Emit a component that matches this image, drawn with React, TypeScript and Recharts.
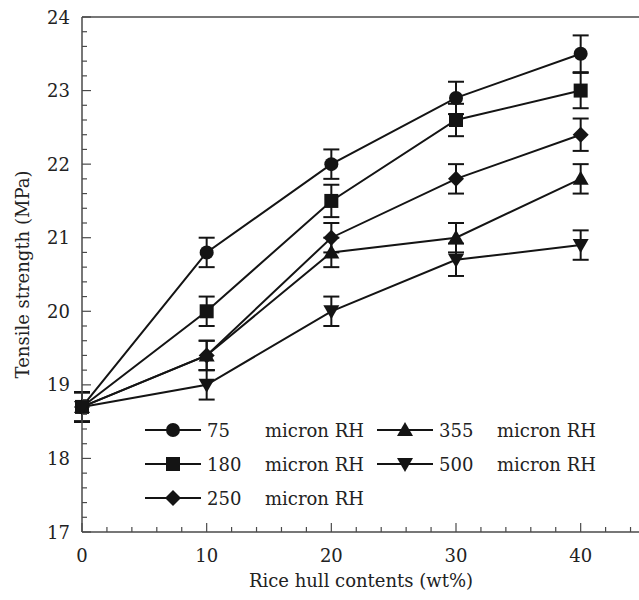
import { CartesianGrid, ErrorBar, Line, LineChart, ReferenceLine, XAxis, YAxis } from 'recharts';

const contents = [0, 10, 20, 30, 40];

const rh75 = [18.7, 20.8, 22.0, 22.9, 23.5];
const rh180 = [18.7, 20.0, 21.5, 22.6, 23.0];
const rh250 = [18.7, 19.4, 21.0, 21.8, 22.4];
const rh355 = [18.7, 19.4, 20.8, 21.0, 21.8];
const rh500 = [18.7, 19.0, 20.0, 20.7, 20.9];

const err75 = [0.2, 0.2, 0.2, 0.22, 0.25];
const err180 = [0.2, 0.2, 0.22, 0.22, 0.24];
const err250 = [0.2, 0.2, 0.2, 0.2, 0.22];
const err355 = [0.2, 0.2, 0.2, 0.2, 0.2];
const err500 = [0.2, 0.2, 0.2, 0.22, 0.2];

const xMajorTicks = [0, 10, 20, 30, 40];
const xMinorStep = 2;
const yMajorTicks = [17, 18, 19, 20, 21, 22, 23, 24];
const yMinorStep = 0.2;

type Shape = 'circle' | 'square' | 'diamond' | 'up' | 'down';

const series: { key: string; size: string; shape: Shape; values: number[]; errors: number[] }[] = [
  { key: 's75', size: '75', shape: 'circle', values: rh75, errors: err75 },
  { key: 's180', size: '180', shape: 'square', values: rh180, errors: err180 },
  { key: 's250', size: '250', shape: 'diamond', values: rh250, errors: err250 },
  { key: 's355', size: '355', shape: 'up', values: rh355, errors: err355 },
  { key: 's500', size: '500', shape: 'down', values: rh500, errors: err500 },
];

const data = contents.map((x, i) => {
  const row: Record<string, number> = { x };
  series.forEach((s) => {
    row[s.key] = s.values[i];
    row[`${s.key}Err`] = s.errors[i];
  });
  return row;
});

const xTicks: number[] = [];
for (let v = 0; v <= 44; v += xMinorStep) xTicks.push(v);
const yTicks: number[] = [];
for (let i = 0; i <= 35; i++) yTicks.push(Math.round((17 + i * yMinorStep) * 10) / 10);

const INK = '#141414';
const AXIS = '#4a4a4a';
const FONT = '"DejaVu Serif", serif';

const Marker = ({ shape, cx, cy }: { shape: Shape; cx: number; cy: number }) => {
  if (shape === 'circle') return <circle cx={cx} cy={cy} r={7} fill={INK} />;
  if (shape === 'square') return <rect x={cx - 7} y={cy - 7} width={14} height={14} fill={INK} />;
  if (shape === 'diamond')
    return <polygon points={`${cx},${cy - 8} ${cx + 8},${cy} ${cx},${cy + 8} ${cx - 8},${cy}`} fill={INK} />;
  if (shape === 'up')
    return <polygon points={`${cx},${cy - 8} ${cx + 8},${cy + 6} ${cx - 8},${cy + 6}`} fill={INK} />;
  return <polygon points={`${cx},${cy + 8} ${cx + 8},${cy - 6} ${cx - 8},${cy - 6}`} fill={INK} />;
};

const isMajor = (v: number, step: number) => Math.abs(v / step - Math.round(v / step)) < 1e-6;

const YTick = (props: any) => {
  const { x, y, payload } = props;
  const major = isMajor(payload.value, 1);
  return (
    <g>
      <line x1={x} y1={y} x2={x + (major ? 9 : 5)} y2={y} stroke={AXIS} strokeWidth={1.2} />
      {major && yMajorTicks.includes(payload.value) && (
        <text x={x - 12} y={y} textAnchor="end" dominantBaseline="central" fontSize={18} fill="#222" fontFamily={FONT}>
          {payload.value}
        </text>
      )}
    </g>
  );
};

const XTick = (props: any) => {
  const { x, y, payload } = props;
  const major = xMajorTicks.includes(payload.value);
  return (
    <g>
      <line x1={x} y1={y} x2={x} y2={y - (major ? 9 : 5)} stroke={AXIS} strokeWidth={1.2} />
      {major && (
        <text x={x} y={y + 23} textAnchor="middle" dominantBaseline="central" fontSize={18} fill="#222" fontFamily={FONT}>
          {payload.value}
        </text>
      )}
    </g>
  );
};

const LegendItem = ({ shape, size }: { shape: Shape; size: string }) => (
  <div style={{ display: 'flex', alignItems: 'center', height: 34 }}>
    <svg width={56} height={20} style={{ display: 'block' }}>
      <line x1={0} y1={10} x2={56} y2={10} stroke={INK} strokeWidth={2} />
      <Marker shape={shape} cx={28} cy={10} />
    </svg>
    <span style={{ marginLeft: 6, width: 58 }}>{size}</span>
    <span>micron RH</span>
  </div>
);

export default function App() {
  const col1 = series.slice(0, 3);
  const col2 = series.slice(3);
  return (
    <div style={{ position: 'relative', width: 639, height: 600, overflow: 'hidden', background: '#fff' }}>
      <style>{'body{margin:0}'}</style>
      <LineChart width={650} height={600} data={data} margin={{ top: 17, right: 7, bottom: 0, left: 0 }}>
        <XAxis
          dataKey="x"
          type="number"
          domain={[0, 45]}
          ticks={xTicks}
          interval={0}
          height={68}
          tickSize={0}
          tickMargin={0}
          tickLine={false}
          tick={<XTick />}
          axisLine={{ stroke: AXIS, strokeWidth: 1.5 }}
          label={(p: any) => (
            <text
              x={p.viewBox.x + 279}
              y={p.viewBox.y + 48}
              textAnchor="middle"
              dominantBaseline="central"
              fontSize={18}
              fill="#222"
              fontFamily={FONT}
            >
              Rice hull contents (wt%)
            </text>
          )}
        />
        <YAxis
          type="number"
          domain={[17, 24]}
          ticks={yTicks}
          interval={0}
          width={82}
          tickSize={0}
          tickMargin={0}
          tickLine={false}
          tick={<YTick />}
          axisLine={{ stroke: AXIS, strokeWidth: 1.5 }}
          label={(p: any) => {
            const cx = p.viewBox.x + 22;
            const cy = p.viewBox.y + p.viewBox.height / 2;
            return (
              <text
                x={cx}
                y={cy}
                transform={`rotate(-90 ${cx} ${cy})`}
                textAnchor="middle"
                dominantBaseline="central"
                fontSize={18}
                fill="#222"
                fontFamily={FONT}
              >
                Tensile strength (MPa)
              </text>
            );
          }}
        />
        <ReferenceLine y={24} stroke={AXIS} strokeWidth={1.5} />
        {series.map((s) => (
          <Line
            key={s.key}
            dataKey={s.key}
            stroke={INK}
            strokeWidth={2}
            isAnimationActive={false}
            dot={(p: any) => <Marker key={`${s.key}-${p.index}`} shape={s.shape} cx={p.cx} cy={p.cy} />}
            activeDot={false}
          >
            <ErrorBar dataKey={`${s.key}Err`} width={8} strokeWidth={2} stroke={INK} direction="y" />
          </Line>
        ))}
      </LineChart>
      <div
        style={{
          position: 'absolute',
          left: 145,
          top: 413,
          display: 'flex',
          fontFamily: FONT,
          fontSize: 18,
          color: '#222',
        }}
      >
        <div style={{ width: 232 }}>
          {col1.map((s) => (
            <LegendItem key={s.key} shape={s.shape} size={s.size} />
          ))}
        </div>
        <div>
          {col2.map((s) => (
            <LegendItem key={s.key} shape={s.shape} size={s.size} />
          ))}
        </div>
      </div>
    </div>
  );
}
